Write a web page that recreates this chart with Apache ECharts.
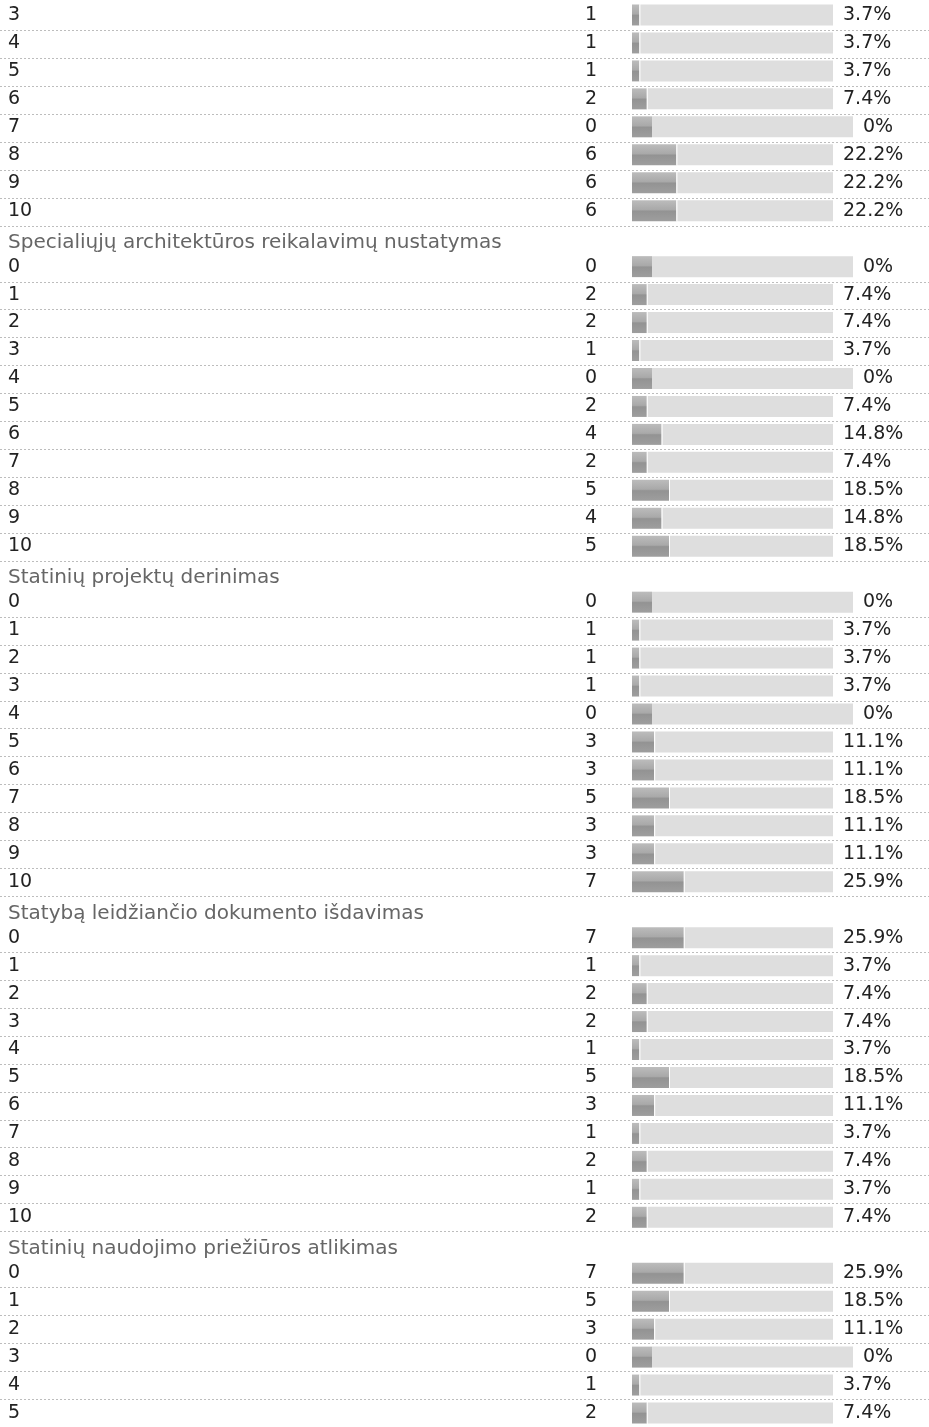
<!DOCTYPE html>
<html>
<head>
<meta charset="utf-8">
<script src="https://cdn.jsdelivr.net/npm/echarts@6/dist/echarts.min.js"></script>
<style>
html,body{margin:0;padding:0;background:#fff;}
#chart{width:929px;height:1427px;}
</style>
</head>
<body>
<div id="chart"></div>
<script>
// ---- data ----
const sectionTitles = ['', 'Specialiųjų architektūros reikalavimų nustatymas', 'Statinių projektų derinimas', 'Statybą leidžiančio dokumento išdavimas', 'Statinių naudojimo priežiūros atlikimas'];
const labelsA = ['3','4','5','6','7','8','9','10'];
const labelsFull = ['0','1','2','3','4','5','6','7','8','9','10'];
const labelsE = ['0','1','2','3','4','5'];
const countsA = [1,1,1,2,0,6,6,6];
const pctA = [3.7,3.7,3.7,7.4,0,22.2,22.2,22.2];
const countsB = [0,2,2,1,0,2,4,2,5,4,5];
const pctB = [0,7.4,7.4,3.7,0,7.4,14.8,7.4,18.5,14.8,18.5];
const countsC = [0,1,1,1,0,3,3,5,3,3,7];
const pctC = [0,3.7,3.7,3.7,0,11.1,11.1,18.5,11.1,11.1,25.9];
const countsD = [7,1,2,2,1,5,3,1,2,1,2];
const pctD = [25.9,3.7,7.4,7.4,3.7,18.5,11.1,3.7,7.4,3.7,7.4];
const countsE = [7,5,3,0,1,2];
const pctE = [25.9,18.5,11.1,0,3.7,7.4];

const sections = [
  {title: sectionTitles[0], labels: labelsA, counts: countsA, pct: pctA},
  {title: sectionTitles[1], labels: labelsFull, counts: countsB, pct: pctB},
  {title: sectionTitles[2], labels: labelsFull, counts: countsC, pct: pctC},
  {title: sectionTitles[3], labels: labelsFull, counts: countsD, pct: pctD},
  {title: sectionTitles[4], labels: labelsE, counts: countsE, pct: pctE}
];

const rows = [];
sections.forEach(s => {
  if (s.title) rows.push({label: s.title, header: true});
  s.labels.forEach((l, i) => rows.push({label: l, header: false, count: s.counts[i], pct: s.pct[i]}));
});

const cats = rows.map(r => r.label);
const darkData = rows.map(r => r.header ? '-' : (r.pct > 0 ? r.pct : 10));
const gapData = rows.map(r => r.header ? '-' : (r.pct > 0 ? 0.5 : 0));
const grayData = rows.map(r => r.header ? '-' : (r.pct > 0 ? 100 - r.pct : 100.5));

const FONT = 'DejaVu Sans';
const chart = echarts.init(document.getElementById('chart'));
chart.setOption({
  animation: false,
  backgroundColor: '#fff',
  grid: [
    {left: 0, right: 0, top: 1, height: rows.length * 28},
    {left: 0, right: 0, top: 2.5, height: rows.length * 28}
  ],
  xAxis: [
    {type: 'value', gridIndex: 0, min: -316, max: 148.5, show: false},
    {type: 'value', gridIndex: 1, min: 0, max: 1, show: false}
  ],
  yAxis: [
    {
      type: 'category', gridIndex: 0, data: cats, inverse: true,
      axisLine: {show: false}, axisTick: {show: false}, splitLine: {show: false},
      axisLabel: {
        inside: true, margin: 8, interval: 0,
        formatter: (v, i) => rows[i].header ? '{h|' + v + '}' : '{d|' + v + '}',
        rich: {
          h: {fontFamily: FONT, fontSize: 20, color: '#666', padding: [8, 0, 0, 0]},
          d: {fontFamily: FONT, fontSize: 19, color: '#222'}
        }
      }
    },
    {
      type: 'category', gridIndex: 1, data: cats, inverse: true,
      axisLine: {show: false}, axisTick: {show: false}, axisLabel: {show: false},
      splitLine: {
        show: true,
        interval: (i) => i > 0 && !rows[i - 1].header,
        lineStyle: {color: '#bdbdbd', width: 1, type: [2, 2]}
      }
    }
  ],
  series: [
    {
      name: 'dark', type: 'bar', stack: 's', barWidth: 21, data: darkData,
      itemStyle: {
        color: new echarts.graphic.LinearGradient(0, 0, 0, 1, [
          {offset: 0, color: '#bcbcbc'},
          {offset: 0.45, color: '#a9a9a9'},
          {offset: 0.52, color: '#939393'},
          {offset: 1, color: '#9e9e9e'}
        ])
      },
      label: {
        show: true, position: 'left', distance: 35,
        fontFamily: FONT, fontSize: 19, color: '#222',
        formatter: p => String(rows[p.dataIndex].count)
      }
    },
    {
      name: 'gap', type: 'bar', stack: 's', barWidth: 21, data: gapData,
      itemStyle: {color: '#fff'}, silent: true
    },
    {
      name: 'gray', type: 'bar', stack: 's', barWidth: 21, data: grayData,
      itemStyle: {color: '#dedede'},
      label: {
        show: true, position: 'right', distance: 10,
        fontFamily: FONT, fontSize: 19, color: '#222',
        formatter: p => {
          const v = rows[p.dataIndex].pct;
          return v === 0 ? '0%' : v.toFixed(1) + '%';
        }
      }
    }
  ]
});
</script>
</body>
</html>
